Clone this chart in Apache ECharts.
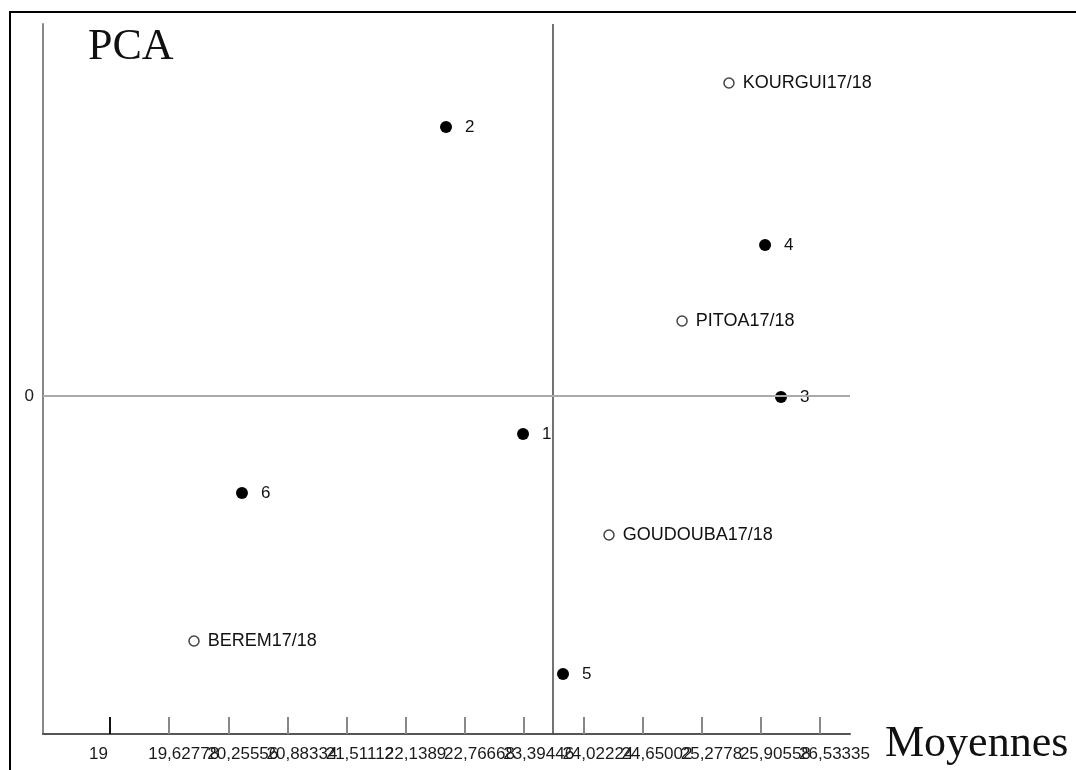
<!DOCTYPE html>
<html>
<head>
<meta charset="utf-8">
<style>
  html, body { margin: 0; padding: 0; background: #fff; }
  #chart { position: absolute; left: 0; top: 0; width: 1076px; height: 770px; }
  #frame { position: absolute; left: 9px; top: 11px; right: 0; bottom: 0;
           border-top: 2px solid #000; border-left: 2px solid #000; pointer-events: none; }
</style>
<script src="https://cdn.jsdelivr.net/npm/echarts@6/dist/echarts.min.js"></script>
</head>
<body>
<div id="chart"></div>
<div id="frame"></div>
<script>
// ---- data ----
const xTickValues = [19, 19.62778, 20.25556, 20.88334, 21.51112, 22.1389, 22.76668,
                     23.39446, 24.02224, 24.65002, 25.2778, 25.90558, 26.53335];
const xTickLabels = ['19', '19,62778', '20,25556', '20,88334', '21,51112', '22,1389', '22,76668',
                     '23,39446', '24,02224', '24,65002', '25,2778', '25,90558', '26,53335'];
const xMin = 18.289, xMax = 26.851;
const yMin = -3.38, yMax = 3.72;
const yTickValues = [0];
const centerX = 23.70;   // vertical reference line
const centerY = 0;       // horizontal reference line

const groupNames = ['1', '2', '3', '4', '5', '6'];
const groupX = [23.382, 22.565, 26.119, 25.950, 23.806, 20.400];
const groupY = [-0.38, 2.69, -0.01, 1.51, -2.78, -0.97];

const siteNames = ['KOURGUI17/18', 'PITOA17/18', 'GOUDOUBA17/18', 'BEREM17/18'];
const siteX = [25.567, 25.069, 24.294, 19.891];
const siteY = [3.13, 0.75, -1.39, -2.45];

// ---- chart ----
const labelShift = 0.2228; // tick labels start left of their tick
const sans = '"Liberation Sans", Arial, Helvetica, sans-serif';
const serif = '"Liberation Serif", "Times New Roman", serif';

function nearestLabel(v) {
  if (v > xTickValues[xTickValues.length - 1] + 0.1) return ''; // blank end placeholder
  let best = 0, d = Infinity;
  xTickValues.forEach((t, i) => { const e = Math.abs(t - v); if (e < d) { d = e; best = i; } });
  return xTickLabels[best];
}

const chart = echarts.init(document.getElementById('chart'), null, { renderer: 'canvas' });
chart.setOption({
  animation: false,
  backgroundColor: '#fff',
  title: {
    text: 'PCA', left: 83, top: 20,
    textStyle: { fontFamily: serif, fontSize: 44, fontWeight: 'normal', color: '#111' }
  },
  grid: { left: 43, top: 24, right: 226, bottom: 36, containLabel: false },
  xAxis: [
    {
      type: 'value', min: xMin, max: xMax,
      name: 'Moyennes', nameLocation: 'end', nameGap: 35,
      nameTextStyle: { fontFamily: serif, fontSize: 44, color: '#111',
                       verticalAlign: 'top', lineHeight: 20 },
      axisLine: { show: true, onZero: false, lineStyle: { color: '#555', width: 2 } },
      axisTick: { show: true, inside: true, length: 17, customValues: xTickValues.slice(1),
                  lineStyle: { color: '#888', width: 2 } },
      axisLabel: { show: false },
      splitLine: { show: false }
    },
    {
      type: 'value', min: xMin + labelShift, max: xMax + labelShift, position: 'bottom',
      axisLine: { show: false }, axisTick: { show: false }, splitLine: { show: false },
      axisLabel: {
        show: true, customValues: xTickValues.concat([xMax + labelShift]),
        align: 'left', margin: 12, hideOverlap: false,
        fontFamily: sans, fontSize: 17, color: '#1a1a1a',
        formatter: v => nearestLabel(v)
      }
    },
    {
      type: 'value', min: xMin, max: xMax, position: 'bottom',
      axisLine: { show: false }, splitLine: { show: false }, axisLabel: { show: false },
      axisTick: { show: true, inside: true, length: 17, customValues: [xTickValues[0]],
                  lineStyle: { color: '#111', width: 2 } }
    }
  ],
  yAxis: {
    type: 'value', min: yMin, max: yMax,
    axisLine: { show: true, onZero: false, lineStyle: { color: '#888', width: 2 } },
    axisTick: { show: false },
    splitLine: { show: false },
    axisLabel: { show: true, customValues: yTickValues, margin: 9,
                 fontFamily: sans, fontSize: 17, color: '#1a1a1a' }
  },
  series: [
    {
      type: 'scatter', name: 'groups', xAxisIndex: 0,
      data: groupX.map((x, i) => [x, groupY[i], groupNames[i]]),
      symbol: 'circle', symbolSize: 12,
      itemStyle: { color: '#000', opacity: 1 },
      label: { show: true, position: 'right', distance: 13, formatter: p => p.data[2],
               fontFamily: sans, fontSize: 17, color: '#111' },
      markLine: {
        silent: true, symbol: 'none', label: { show: false },
        data: [
          { xAxis: centerX, lineStyle: { color: '#444', width: 1.5, type: 'solid' } },
          { yAxis: centerY, lineStyle: { color: '#aaa', width: 2, type: 'solid' } }
        ]
      },
      z: 3
    },
    {
      type: 'scatter', name: 'sites', xAxisIndex: 0,
      data: siteX.map((x, i) => [x, siteY[i], siteNames[i]]),
      symbol: 'circle', symbolSize: 10,
      itemStyle: { color: '#fff', borderColor: '#444', borderWidth: 1.5, opacity: 1 },
      label: { show: true, position: 'right', distance: 8, formatter: p => p.data[2],
               fontFamily: sans, fontSize: 18, color: '#111' },
      z: 3
    }
  ]
});
</script>
</body>
</html>
